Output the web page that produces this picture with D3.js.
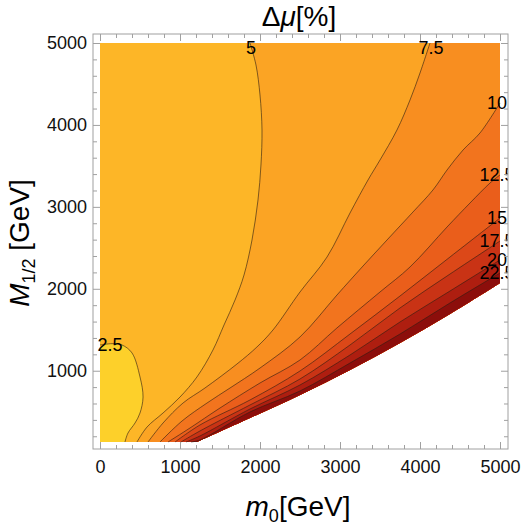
<!DOCTYPE html>
<html>
<head>
<meta charset="utf-8">
<script src="https://cdn.jsdelivr.net/npm/d3@7"></script>
<style>
  body { margin: 0; background: #fff; }
  text { font-family: "Liberation Sans", Arial, sans-serif; }
</style>
</head>
<body>
<div id="chart"></div>
<script>
// contour levels of Δμ in %
var levels = [2.5, 5, 7.5, 10, 12.5, 15, 17.5, 20, 22.5];

// band colours, from below 2.5 up to above 22.5
var bandColors = ["#fdd02a", "#fdb627", "#fba424", "#f88e20", "#f2741e", "#ea5e1b", "#dc4818", "#c93315", "#ae1e10", "#8c0e0b"];

// lowest M1/2 of the scan
var mHalfMin = 130;

// contour lines, [m0, M1/2] in GeV, from the edge where the label sits down to the bottom
var c2_5 = [[0, 1314], [150, 1330], [275, 1314], [400, 1217], [500, 924], [538, 679], [500, 484], [438, 362], [350, 240], [312, 130]];
var c5 = [[1875, 5000], [1950, 4731], [2000, 4365], [2025, 3938], [2012, 3511], [1975, 3084], [1900, 2596], [1800, 2168],
          [1688, 1863], [1550, 1558], [1412, 1253], [1212, 924], [1000, 679], [788, 484], [588, 313], [462, 130]];
var c7_5 = [[4125, 5000], [4000, 4634], [3875, 4304], [3712, 3938], [3500, 3572], [3350, 3328], [3125, 2925], [2838, 2388],
            [2500, 1961], [2162, 1497], [1962, 1290], [1712, 1082], [1312, 789], [1038, 606], [788, 362], [600, 130]];
var c10 = [[5000, 4268], [4750, 3902], [4538, 3694], [4338, 3450], [4162, 3206], [3912, 2937], [3588, 2596], [3288, 2278],
           [2962, 1924], [2500, 1412], [2000, 1033], [1625, 789], [1338, 606], [1025, 386], [750, 130]];
var c12_5 = [[5000, 3389], [4875, 3291], [4625, 3047], [4338, 2754], [3875, 2266], [3500, 1961], [2962, 1522], [2500, 1131],
             [2000, 850], [1500, 545], [1125, 301], [850, 130]];
var c15 = [[5000, 2864], [4375, 2388], [3750, 1912], [3125, 1448], [2500, 997], [1875, 643], [1250, 338], [938, 130]];
var c17_5 = [[5000, 2583], [4375, 2180], [3750, 1766], [3125, 1314], [2500, 899], [1875, 582], [1250, 265], [1012, 130]];
var c20 = [[5000, 2352], [4375, 1973], [3750, 1595], [3125, 1192], [2500, 826], [1875, 533], [1250, 204], [1075, 130]];
var c22_5 = [[5000, 2193], [4375, 1827], [3750, 1448], [3125, 1094], [2500, 753], [1875, 497], [1250, 155], [1138, 130]];

var contours = [c2_5, c5, c7_5, c10, c12_5, c15, c17_5, c20, c22_5];

// edge of the allowed region, nothing is plotted below it
var edge = [[1212, 130], [1875, 423], [2500, 704], [3125, 1009], [3750, 1339], [4375, 1692], [5000, 2071]];

var xTicks = [0, 1000, 2000, 3000, 4000, 5000];
var yTicks = [1000, 2000, 3000, 4000, 5000];

function init() {
    var W = 521, H = 523;
    var frame = {left: 93, right: 508, top: 34, bottom: 449};

    var x = d3.scaleLinear().domain([0, 5000]).range([100, 500]);
    var y = d3.scaleLinear().domain([mHalfMin, 5000]).range([442, 43]);

    var svg = d3.select("#chart").append("svg")
        .attr("width", W)
        .attr("height", H);

    svg.append("clipPath").attr("id", "frameclip")
        .append("rect")
        .attr("x", frame.left).attr("y", frame.top)
        .attr("width", frame.right - frame.left)
        .attr("height", frame.bottom - frame.top);

    var line = d3.line()
        .x(d => x(d[0]))
        .y(d => y(d[1]))
        .curve(d3.curveCatmullRom.alpha(0.5));

    // turn a path's leading move into a line-to so it continues the outline
    function cont(p) { return "L" + p.slice(1); }

    var edgePath = line(edge);
    var tr = "L" + x(5000) + "," + y(5000);
    var tl = "L" + x(0) + "," + y(5000);

    // region above a level: contour, then round the allowed region the high-value way
    function bandPath(c) {
        var s = c[0];
        var d = line(c) + cont(edgePath);
        if (s[0] < 5000) d += tr;
        if (s[0] === 0) d += tl;
        return d + "Z";
    }

    var plot = svg.append("g");

    plot.append("path")
        .attr("d", "M" + x(0) + "," + y(mHalfMin) + cont(edgePath) + tr + tl + "Z")
        .attr("fill", bandColors[0]);

    plot.selectAll(".band")
        .data(contours)
        .enter().append("path")
        .attr("class", "band")
        .attr("d", bandPath)
        .attr("fill", (d, i) => bandColors[i + 1]);

    plot.selectAll(".cline")
        .data(contours)
        .enter().append("path")
        .attr("class", "cline")
        .attr("d", line)
        .attr("fill", "none")
        .attr("stroke", "#2b1d12")
        .attr("stroke-opacity", 0.75)
        .attr("stroke-width", 0.8);

    // contour labels at the edge where each line starts
    svg.append("g")
        .attr("clip-path", "url(#frameclip)")
        .selectAll("text")
        .data(contours)
        .enter().append("text")
        .attr("x", function(d) {
            var s = d[0];
            if (s[0] === 0) return x(s[0]) + 10;
            if (s[0] === 5000) return x(s[0]) - 3;
            return x(s[0]) + 1;
        })
        .attr("y", function(d) {
            var s = d[0];
            if (s[1] === 5000) return y(s[1]) + 5;
            return y(s[1]);
        })
        .attr("dy", "0.35em")
        .attr("text-anchor", "middle")
        .style("font-size", "18px")
        .attr("fill", "#000")
        .text((d, i) => levels[i]);

    // frame with inward ticks on all four sides
    svg.append("rect")
        .attr("x", frame.left).attr("y", frame.top)
        .attr("width", frame.right - frame.left)
        .attr("height", frame.bottom - frame.top)
        .attr("fill", "none")
        .attr("stroke", "#a0a0a0")
        .attr("stroke-width", 1);

    var xMinor = d3.range(200, 5000, 200).filter(v => v % 1000 !== 0);
    var yMinor = d3.range(200, 5000, 200).filter(v => v % 1000 !== 0);
    var fmt = d3.format("d");

    function style(g) {
        g.select(".domain").remove();
        g.selectAll("line").attr("stroke", "#a0a0a0");
        g.selectAll("text").style("font-size", "18px").attr("fill", "#111");
    }

    svg.append("g")
        .attr("transform", `translate(0, ${frame.bottom})`)
        .call(d3.axisBottom(x).tickValues(xTicks).tickSize(-7).tickPadding(11).tickFormat(fmt))
        .call(style);
    svg.append("g")
        .attr("transform", `translate(0, ${frame.bottom})`)
        .call(d3.axisBottom(x).tickValues(xMinor).tickSize(-4).tickFormat(""))
        .call(style);
    svg.append("g")
        .attr("transform", `translate(0, ${frame.top})`)
        .call(d3.axisTop(x).tickValues(xTicks).tickSize(-7).tickFormat(""))
        .call(style);
    svg.append("g")
        .attr("transform", `translate(0, ${frame.top})`)
        .call(d3.axisTop(x).tickValues(xMinor).tickSize(-4).tickFormat(""))
        .call(style);

    svg.append("g")
        .attr("transform", `translate(${frame.left}, 0)`)
        .call(d3.axisLeft(y).tickValues(yTicks).tickSize(-7).tickPadding(6).tickFormat(fmt))
        .call(style);
    svg.append("g")
        .attr("transform", `translate(${frame.left}, 0)`)
        .call(d3.axisLeft(y).tickValues(yMinor).tickSize(-4).tickFormat(""))
        .call(style);
    svg.append("g")
        .attr("transform", `translate(${frame.right}, 0)`)
        .call(d3.axisRight(y).tickValues(yTicks).tickSize(-7).tickFormat(""))
        .call(style);
    svg.append("g")
        .attr("transform", `translate(${frame.right}, 0)`)
        .call(d3.axisRight(y).tickValues(yMinor).tickSize(-4).tickFormat(""))
        .call(style);

    // title
    var title = svg.append("text")
        .attr("x", 299)
        .attr("y", 26)
        .attr("text-anchor", "middle")
        .style("font-size", "28px");
    title.append("tspan").text("Δ");
    title.append("tspan").style("font-style", "italic").text("μ");
    title.append("tspan").text("[%]");

    // x label
    var xl = svg.append("text")
        .attr("x", 298)
        .attr("y", 516)
        .attr("text-anchor", "middle")
        .style("font-size", "28px");
    xl.append("tspan").style("font-style", "italic").text("m");
    xl.append("tspan").attr("dy", 6).style("font-size", "18px").text("0");
    xl.append("tspan").attr("dy", -6).text("[GeV]");

    // y label
    var yl = svg.append("text")
        .attr("transform", "translate(29, 243) rotate(-90)")
        .attr("text-anchor", "middle")
        .style("font-size", "28px");
    yl.append("tspan").style("font-style", "italic").text("M");
    yl.append("tspan").attr("dy", 6).style("font-size", "18px").text("1/2");
    yl.append("tspan").attr("dy", -6).text(" [GeV]");
}

window.onload = init;
</script>
</body>
</html>
